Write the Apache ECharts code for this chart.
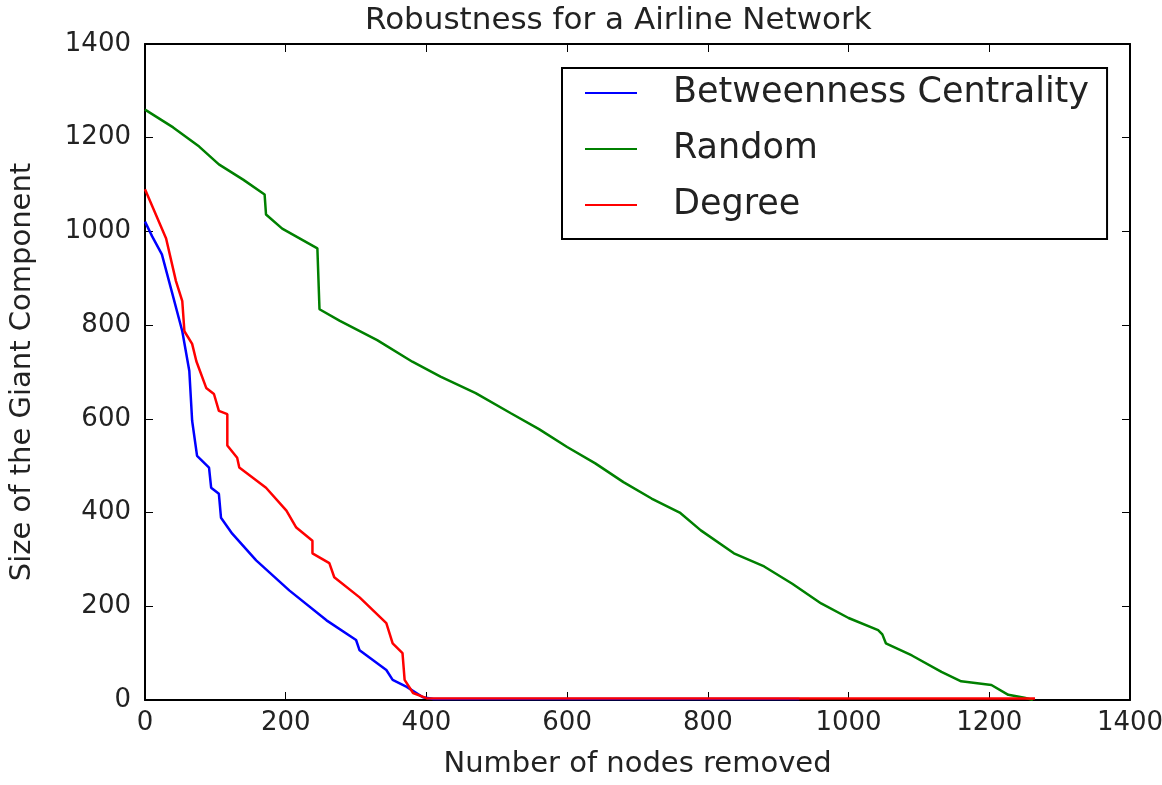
<!DOCTYPE html>
<html>
<head>
<meta charset="utf-8">
<title>Robustness for a Airline Network</title>
<script src="https://cdn.jsdelivr.net/npm/echarts@6/dist/echarts.min.js"></script>
<style>
  html, body { margin: 0; padding: 0; background: #fff; }
  #chart { width: 1162px; height: 785px; }
</style>
</head>
<body>
<div id="chart"></div>
<script>
// values: [nodes removed, size of giant component]
const betweenness = [
  [0, 1021], [10, 990], [24, 951], [38, 872], [53, 787], [63, 702], [67, 596],
  [74, 521], [91, 496], [94, 453], [105, 440], [108, 389], [124, 355], [158, 298],
  [205, 234], [258, 170], [300, 128], [305, 106], [343, 64], [352, 43], [372, 28],
  [395, 6], [410, 2], [930, 2]
];
const random = [
  [0, 1260], [40, 1222], [77, 1181], [105, 1143], [140, 1110], [170, 1079], [172, 1036],
  [195, 1006], [245, 964], [248, 834], [277, 809], [330, 768], [380, 722], [420, 690],
  [470, 655], [520, 612], [560, 578], [600, 540], [640, 505], [680, 465], [720, 430],
  [760, 400], [790, 362], [837, 313], [880, 285], [920, 248], [961, 206], [1000, 175],
  [1042, 149], [1048, 140], [1053, 121], [1090, 95], [1132, 60], [1160, 40], [1203, 32],
  [1227, 11], [1250, 5], [1262, 0]
];
const degree = [
  [0, 1090], [30, 985], [44, 894], [53, 851], [56, 787], [67, 760], [73, 723],
  [87, 666], [98, 653], [105, 617], [117, 610], [117, 543], [131, 517], [134, 496],
  [172, 453], [201, 404], [215, 368], [238, 340], [238, 313], [262, 292], [269, 262],
  [305, 219], [343, 164], [352, 121], [366, 100], [369, 43], [381, 15], [400, 4],
  [1265, 3]
];
const seriesNames = ['Betweenness Centrality', 'Random', 'Degree'];
const seriesColors = ['#0000ff', '#008000', '#ff0000'];
const axisMax = 1400;
const tickStep = 200;

const font = 'DejaVu Sans';

function frameAxis(show) {
  return {
    type: 'value', min: 0, max: axisMax, interval: tickStep,
    axisLine: { show: true, onZero: false, lineStyle: { color: '#000', width: 2 } },
    axisTick: { show: true, inside: true, length: 8, lineStyle: { color: '#000', width: 1 } },
    axisLabel: {
      show: show, color: '#222', fontFamily: font, fontSize: 26,
      formatter: v => String(v)
    },
    splitLine: { show: false }
  };
}

const chart = echarts.init(document.getElementById('chart'));
const xMain = frameAxis(true);
xMain.position = 'bottom';
xMain.axisLabel.margin = 10;
xMain.name = 'Number of nodes removed';
xMain.nameLocation = 'middle';
xMain.nameGap = 50;
xMain.nameTextStyle = { color: '#222', fontFamily: font, fontSize: 29 };
const xTop = frameAxis(false);
xTop.position = 'top';

const yMain = frameAxis(true);
yMain.position = 'left';
yMain.axisLabel.margin = 14;
yMain.name = 'Size of the Giant Component';
yMain.nameLocation = 'middle';
yMain.nameGap = 108;
yMain.nameTextStyle = { color: '#222', fontFamily: font, fontSize: 29 };
const yRight = frameAxis(false);
yRight.position = 'right';

chart.setOption({
  animation: false,
  backgroundColor: '#fff',
  title: {
    text: 'Robustness for a Airline Network',
    left: 360, top: 0,
    textStyle: { color: '#222', fontFamily: font, fontSize: 31, fontWeight: 'normal' }
  },
  grid: { left: 145, right: 32, top: 44, bottom: 85, outerBoundsMode: 'none' },
  legend: {
    orient: 'vertical', left: 562, top: 68,
    data: seriesNames,
    icon: 'rect', itemWidth: 52, itemHeight: 2, itemGap: 16,
    padding: [5, 18, 14, 23],
    borderColor: '#000', borderWidth: 2, backgroundColor: '#fff',
    textStyle: { color: '#222', fontFamily: font, fontSize: 35, lineHeight: 40, padding: [0, 0, 0, 31] }
  },
  xAxis: [xMain, xTop],
  yAxis: [yMain, yRight],
  series: [betweenness, random, degree].map((d, i) => ({
    name: seriesNames[i],
    type: 'line',
    data: d,
    showSymbol: false,
    color: seriesColors[i],
    lineStyle: { width: 2.5, color: seriesColors[i] }
  }))
});
</script>
</body>
</html>
